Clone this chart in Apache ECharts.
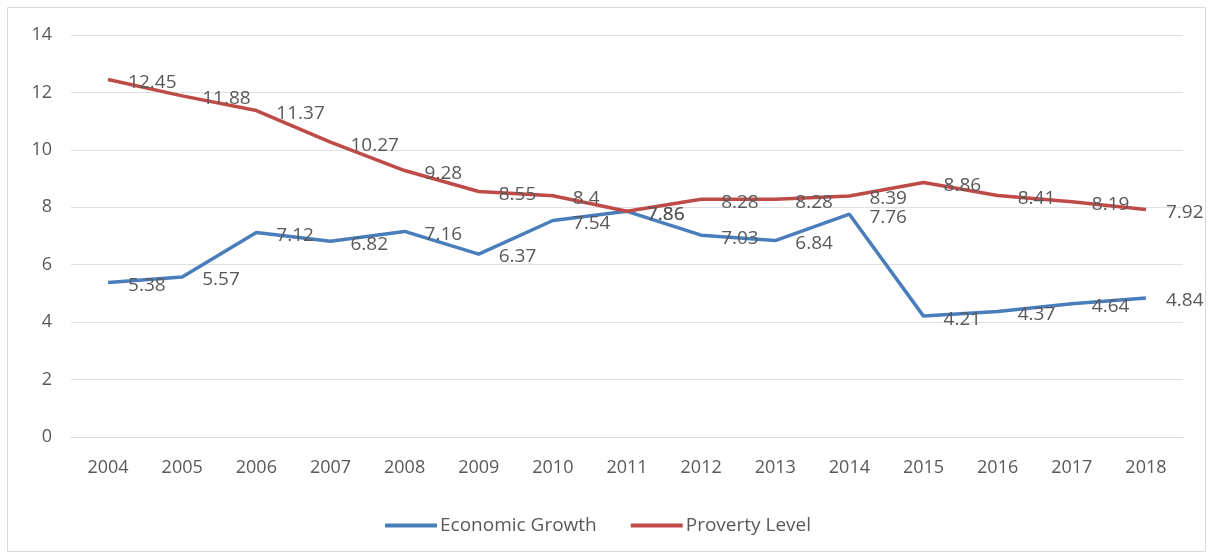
<!DOCTYPE html>
<html><head><meta charset="utf-8">
<script src="https://cdn.jsdelivr.net/npm/echarts@6/dist/echarts.min.js"></script>
<style>html,body{margin:0;padding:0;background:#fff}#c{width:1213px;height:560px}</style>
</head><body><div id="c"></div>
<script>
const years = ['2004','2005','2006','2007','2008','2009','2010','2011','2012','2013','2014','2015','2016','2017','2018'];
const economicGrowth = [5.38,5.57,7.12,6.82,7.16,6.37,7.54,7.86,7.03,6.84,7.76,4.21,4.37,4.64,4.84];
const provertyLevel = [12.45,11.88,11.37,10.27,9.28,8.55,8.4,7.86,8.28,8.28,8.39,8.86,8.41,8.19,7.92];
const seriesNames = ['Economic Growth','Proverty Level'];
const txt = '#595959';
const font = '"Open Sans", "Liberation Sans", sans-serif';
const chart = echarts.init(document.getElementById('c'));
const lbl = {show:true, position:'right', distance:20, color:txt, fontSize:19, fontFamily:font, offset:[0,3]};
chart.setOption({
  animation:false,
  graphic:[{type:'rect', shape:{x:7.5,y:7.5,width:1198,height:544}, style:{fill:'none', stroke:'#d9d9d9', lineWidth:1}}],
  grid:{left:71, right:30, top:35, bottom:123},
  legend:{top:511, left:380, itemWidth:52, itemHeight:4, itemGap:34, icon:'rect',
    textStyle:{color:txt, fontSize:19, fontFamily:font, padding:[0,0,0,-2]}, data:seriesNames},
  xAxis:{type:'category', data:years, boundaryGap:true,
    axisLine:{lineStyle:{color:'#d9d9d9'}}, axisTick:{show:false},
    axisLabel:{color:txt, fontSize:18, fontFamily:font, margin:22}},
  yAxis:{type:'value', min:0, max:14, interval:2,
    axisLine:{show:false}, axisTick:{show:false},
    splitLine:{lineStyle:{color:'#e0e0e0'}},
    axisLabel:{color:txt, fontSize:18, fontFamily:font, margin:19}},
  series:[
    {name:seriesNames[0], type:'line', data:economicGrowth, symbol:'circle', symbolSize:0.01, showSymbol:true, lineStyle:{color:'#4a7ebb', width:3.5}, itemStyle:{color:'#4a7ebb'}, label:lbl},
    {name:seriesNames[1], type:'line', data:provertyLevel, symbol:'circle', symbolSize:0.01, showSymbol:true, lineStyle:{color:'#be4b48', width:3.5}, itemStyle:{color:'#be4b48'}, label:lbl}
  ]
});
</script></body></html>
